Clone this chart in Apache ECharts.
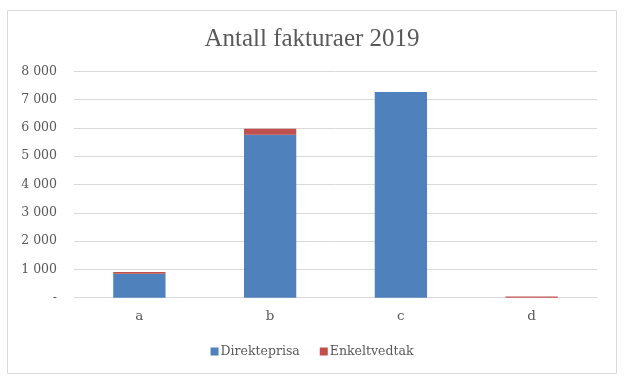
<!DOCTYPE html>
<html><head><meta charset="utf-8">
<script src="https://cdn.jsdelivr.net/npm/echarts@6/dist/echarts.min.js"></script>
<style>html,body{margin:0;padding:0;background:#fff}#c{width:624px;height:381px}</style>
</head><body><div id="c"></div>
<script>
const categories = ['a', 'b', 'c', 'd'];
const direkteprisa = [850, 5760, 7270, 0];
const enkeltvedtak = [60, 210, 0, 45];
const yTicks = [0, 1000, 2000, 3000, 4000, 5000, 6000, 7000, 8000];

const chart = echarts.init(document.getElementById('c'));
const font = 'Liberation Serif';
const font2 = 'DejaVu Serif';
chart.setOption({
  animation: false,
  graphic: [{type: 'rect', shape: {x: 7.5, y: 10.5, width: 609, height: 363}, style: {fill: 'none', stroke: '#d9d9d9', lineWidth: 1}}],
  title: {text: 'Antall fakturaer 2019', left: 'center', top: 22,
    textStyle: {fontFamily: font, fontSize: 25, fontWeight: 'normal', color: '#595959'}},
  legend: {bottom: 18, left: 'center', itemWidth: 8, itemHeight: 8, itemGap: 20, icon: 'rect',
    textStyle: {fontFamily: font2, fontSize: 12.5, color: '#595959', padding: [0,0,0,-3]},
    data: ['Direkteprisa', 'Enkeltvedtak']},
  grid: {left: 74, right: 27, top: 71.3, bottom: 83.3},
  xAxis: {type: 'category', data: categories,
    axisLine: {lineStyle: {color: '#d9d9d9', width: 1}}, axisTick: {show: false},
    axisLabel: {fontFamily: font2, fontSize: 13.5, color: '#595959', margin: 12}},
  yAxis: {type: 'value', min: yTicks[0], max: yTicks[yTicks.length-1], interval: 1000,
    axisLine: {show: false}, axisTick: {show: false},
    splitLine: {lineStyle: {color: '#d9d9d9', width: 1}},
    axisLabel: {fontFamily: font2, fontSize: 12.5, color: '#595959', margin: 17,
      formatter: v => v === 0 ? '-' : String(v).replace(/\B(?=(\d{3})+(?!\d))/g, ' ')}},
  series: [
    {name: 'Direkteprisa', type: 'bar', stack: 't', barWidth: '40%', data: direkteprisa, itemStyle: {color: '#4f81bd'}},
    {name: 'Enkeltvedtak', type: 'bar', stack: 't', barWidth: '40%', data: enkeltvedtak, itemStyle: {color: '#c0504d'}}
  ]
});
</script></body></html>
